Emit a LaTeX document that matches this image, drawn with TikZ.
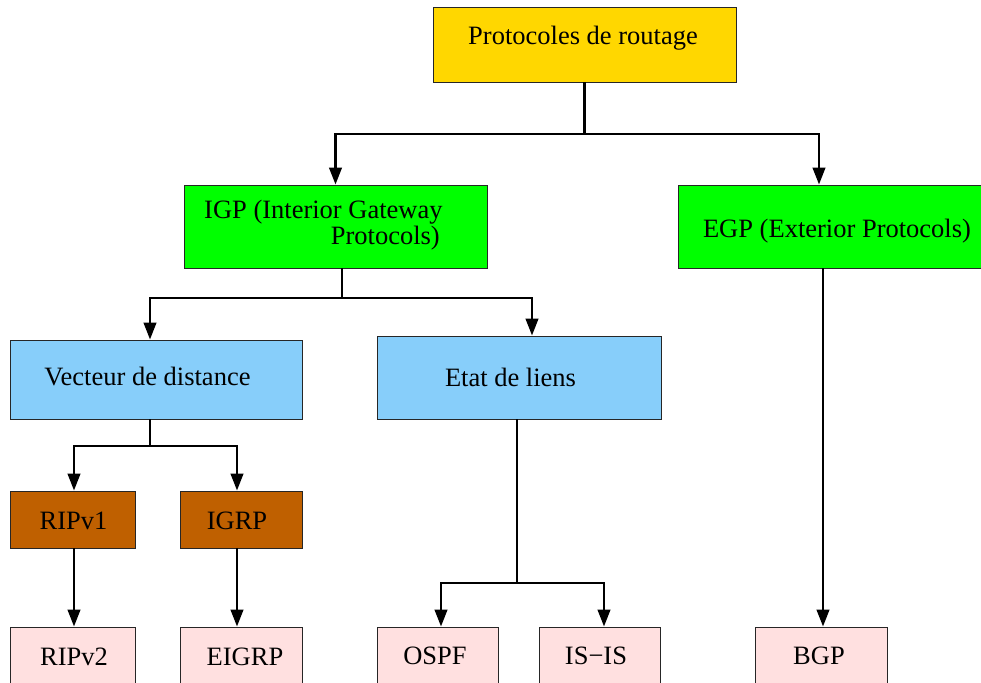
\documentclass[tikz,border=0pt]{standalone}
\usepackage{fontspec}
\setmainfont{Liberation Serif}
\usetikzlibrary{arrows.meta,calc}
\definecolor{cgold}{RGB}{255,215,0}
\definecolor{cgreen}{RGB}{0,255,0}
\definecolor{cblue}{RGB}{135,206,250}
\definecolor{cbrown}{RGB}{191,96,0}
\definecolor{cpink}{RGB}{255,224,224}
\tikzset{
  box/.style={draw=black!85, line width=0.9bp, rectangle, inner sep=0pt},
  lbl/.style={font=\fontsize{26.5bp}{27bp}\selectfont, inner sep=0pt, anchor=base},
  conn/.style={line width=2.7bp, draw=black},
  arr/.style={conn, -{Triangle[length=17bp,width=12.5bp]}}
}
\begin{document}
\begin{tikzpicture}[x=1bp,y=-1bp]
\useasboundingbox (0,0) rectangle (981,683);
% boxes
\node[box, fill=cgold, minimum width=303bp, minimum height=75bp] (root) at (584.5,44.5) {};
\node[box, fill=cgreen, minimum width=303bp, minimum height=83bp] (igp) at (335.5,226.5) {};
\node[box, fill=cgreen, minimum width=307bp, minimum height=83bp] (egp) at (831.5,226.5) {};
\node[box, fill=cblue, minimum width=292bp, minimum height=79bp] (vec) at (156,379.5) {};
\node[box, fill=cblue, minimum width=284bp, minimum height=83bp] (etat) at (519,377.5) {};
\node[box, fill=cbrown, minimum width=125bp, minimum height=57bp] (ripv1) at (72.5,519.5) {};
\node[box, fill=cbrown, minimum width=122bp, minimum height=57bp] (igrp) at (241,519.5) {};
\node[box, fill=cpink, minimum width=125bp, minimum height=63bp] (ripv2) at (72.5,658.5) {};
\node[box, fill=cpink, minimum width=122bp, minimum height=63bp] (eigrp) at (241,658.5) {};
\node[box, fill=cpink, minimum width=121bp, minimum height=63bp] (ospf) at (437.5,658.5) {};
\node[box, fill=cpink, minimum width=121bp, minimum height=63bp] (isis) at (599.5,658.5) {};
\node[box, fill=cpink, minimum width=132bp, minimum height=63bp] (bgp) at (821,658.5) {};
% labels
\node[lbl] (troot) at (583,45) {Protocoles de routage};
\node[lbl, anchor=base west] (tigpa) at (204,218) {IGP (Interior Gateway};
\node[lbl, anchor=base east] (tigpb) at (440,244) {Protocols)};
\node[lbl] (tegp) at (837,237) {EGP (Exterior Protocols)};
\node[lbl] (tvec) at (147.5,385) {Vecteur de distance};
\node[lbl] (tetat) at (510.5,386) {Etat de liens};
\node[lbl] (tripv1) at (73.5,529) {RIPv1};
\node[lbl] (tigrp) at (237,529) {IGRP};
\node[lbl] (tripv2) at (74,665) {RIPv2};
\node[lbl] (teigrp) at (245,665) {EIGRP};
\node[lbl] (tospf) at (435,664) {OSPF};
\node[lbl] (tisis) at (596,664) {IS−IS};
\node[lbl] (tbgp) at (819,664) {BGP};
% connectors
\coordinate (j1) at (584.5,134);
\draw[conn] (root.south) -- (j1);
\draw[arr] (j1) -| (igp.north);
\draw[arr] (j1) -| ($(egp.north)+(-12.5,0)$);
\coordinate (j2) at (342,298);
\draw[conn] (igp.south -| j2) -- (j2);
\draw[arr] (j2) -| ($(vec.north)+(-6,0)$);
\draw[arr] (j2) -| ($(etat.north)+(13,0)$);
\coordinate (j3) at (150,446);
\draw[conn] (vec.south -| j3) -- (j3);
\draw[arr] (j3) -| ($(ripv1.north)+(1.5,0)$);
\draw[arr] (j3) -| ($(igrp.north)+(-4,0)$);
\coordinate (j4) at (517,583);
\draw[conn] (etat.south -| j4) -- (j4);
\draw[arr] (j4) -| ($(ospf.north)+(3.5,0)$);
\draw[arr] (j4) -| ($(isis.north)+(4.5,0)$);
\draw[arr] ($(ripv1.south)+(1.5,0)$) -- ($(ripv2.north)+(1.5,0)$);
\draw[arr] ($(igrp.south)+(-4,0)$) -- ($(eigrp.north)+(-4,0)$);
\draw[arr] ($(egp.south -| bgp.north)+(2,0)$) -- ($(bgp.north)+(2,0)$);
\end{tikzpicture}
\end{document}
